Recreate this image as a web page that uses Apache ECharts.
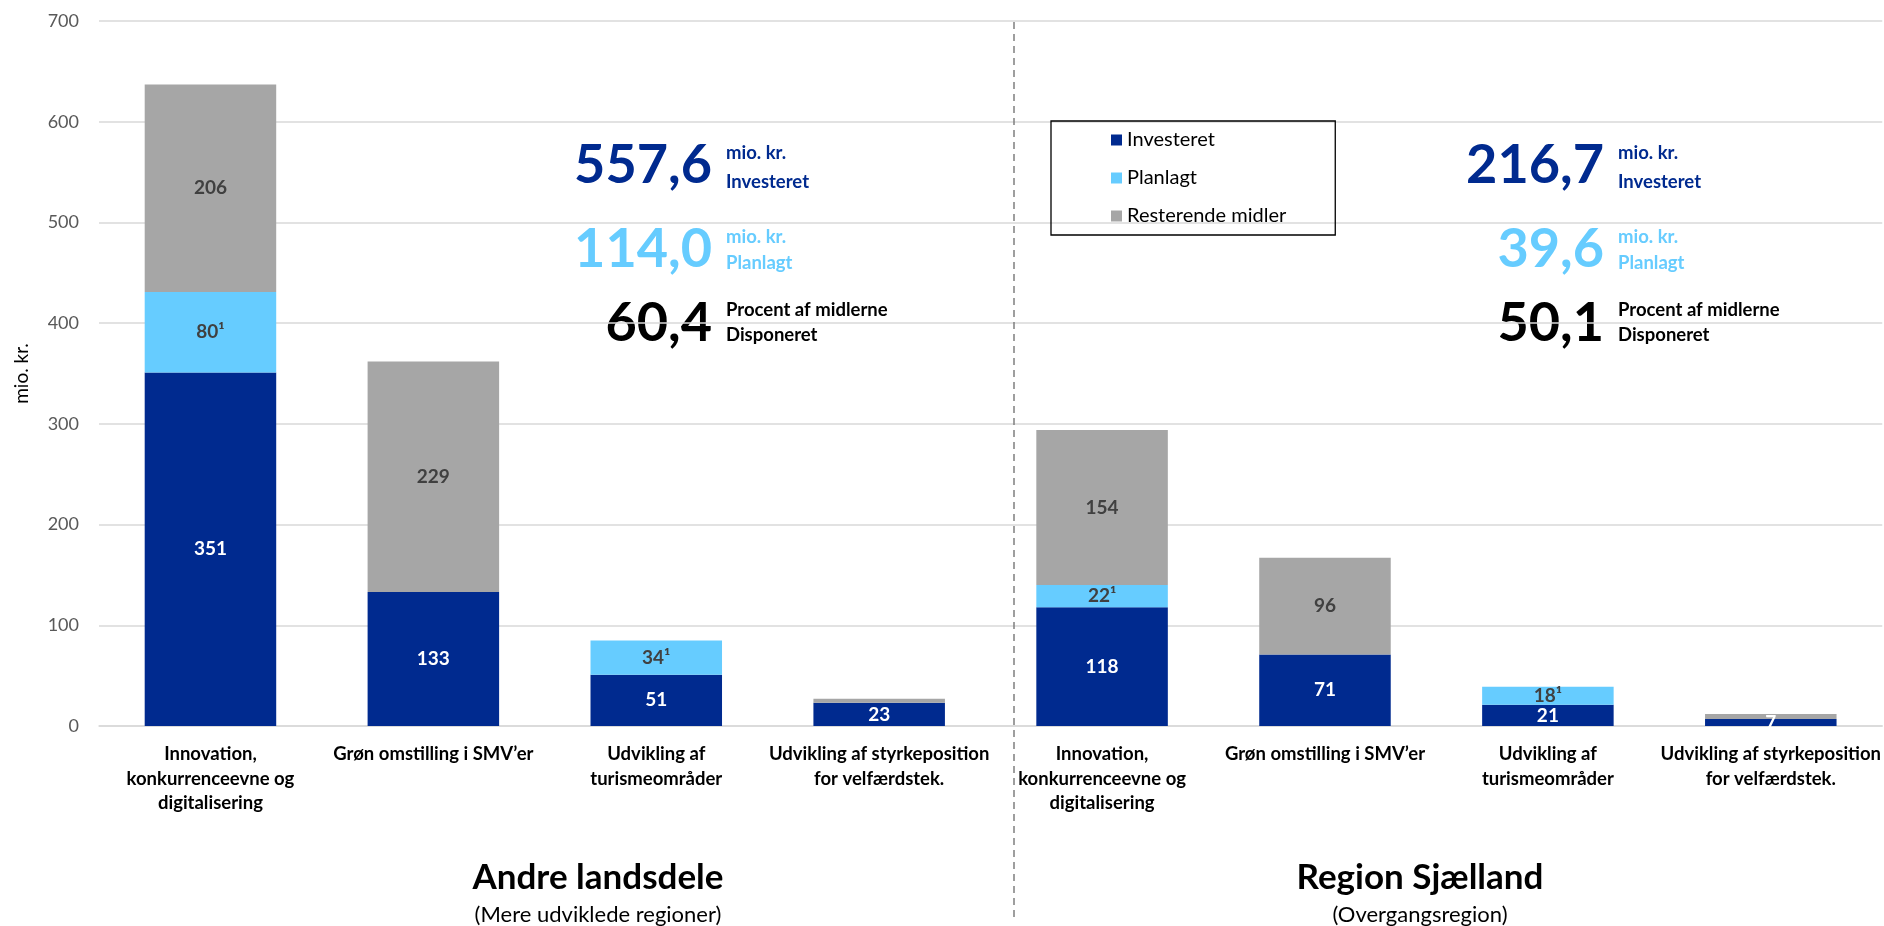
<!DOCTYPE html>
<html>
<head>
<meta charset="utf-8">
<script src="https://cdn.jsdelivr.net/npm/echarts@6/dist/echarts.min.js"></script>
<style>
html,body{margin:0;padding:0;background:#fff;}
#chart{width:1884px;height:926px;}
</style>
</head>
<body>
<div id="chart"></div>
<script>
const categories = [
  'Innovation,\nkonkurrenceevne og\ndigitalisering',
  'Grøn omstilling i SMV’er',
  'Udvikling af\nturismeområder',
  'Udvikling af styrkeposition\nfor velfærdstek.',
  'Innovation,\nkonkurrenceevne og\ndigitalisering',
  'Grøn omstilling i SMV’er',
  'Udvikling af\nturismeområder',
  'Udvikling af styrkeposition\nfor velfærdstek.'
];
const investeret = [351, 133, 51, 23, 118, 71, 21, 7];
const planlagt = [80, 0, 34, 0, 22, 0, 18, 0];
const resterende = [206, 229, 0, 4, 154, 96, 0, 5];
const yTicks = { min: 0, max: 700, interval: 100 };

const groupTitles = ['Andre landsdele', 'Region Sjælland'];
const groupSubtitles = ['(Mere udviklede regioner)', '(Overgangsregion)'];
const investeretTotal = ['557,6', '216,7'];
const planlagtTotal = ['114,0', '39,6'];
const disponeretPct = ['60,4', '50,1'];

const DARK = '#002A8F', LIGHT = '#66CCFF', GREY = '#A6A6A6';
const FONT = 'Lato';

const chart = echarts.init(document.getElementById('chart'), null, {renderer: 'canvas'});

function summaryGraphics(i, numX, groupX) {
  const lblX = numX + 14;
  const small = 'bold 18.5px ' + FONT;
  const big = 'bold 54px ' + FONT;
  const g = [];
  g.push({type:'text', x:numX, y:166, style:{text:investeretTotal[i], fill:DARK, font:big, align:'right', verticalAlign:'middle'}});
  g.push({type:'text', x:lblX, y:153, style:{text:'mio. kr.', fill:DARK, font:small, align:'left', verticalAlign:'middle'}});
  g.push({type:'text', x:lblX, y:182, style:{text:'Investeret', fill:DARK, font:small, align:'left', verticalAlign:'middle'}});
  g.push({type:'text', x:numX, y:250, style:{text:planlagtTotal[i], fill:LIGHT, font:big, align:'right', verticalAlign:'middle'}});
  g.push({type:'text', x:lblX, y:237, style:{text:'mio. kr.', fill:LIGHT, font:small, align:'left', verticalAlign:'middle'}});
  g.push({type:'text', x:lblX, y:263, style:{text:'Planlagt', fill:LIGHT, font:small, align:'left', verticalAlign:'middle'}});
  g.push({type:'text', x:numX, y:324, style:{text:disponeretPct[i], fill:'#000', font:big, align:'right', verticalAlign:'middle'}});
  g.push({type:'text', x:lblX, y:310, style:{text:'Procent af midlerne', fill:'#000', font:small, align:'left', verticalAlign:'middle'}});
  g.push({type:'text', x:lblX, y:335, style:{text:'Disponeret', fill:'#000', font:small, align:'left', verticalAlign:'middle'}});
  g.push({type:'text', x:groupX, y:878, style:{text:groupTitles[i], fill:'#000', font:'bold 35px ' + FONT, align:'center', verticalAlign:'middle'}});
  g.push({type:'text', x:groupX, y:915, style:{text:groupSubtitles[i], fill:'#000', font:'22px ' + FONT, align:'center', verticalAlign:'middle'}});
  return g;
}

const labelBase = {show:true, position:'inside', fontFamily:FONT, fontWeight:'bold', fontSize:19};

const option = {
  animation:false,
  backgroundColor:'#fff',
  grid:{left:99, right:1, top:21, bottom:200, containLabel:false},
  legend:{
    orient:'vertical', left:1051, top:121,
    data:['Investeret','Planlagt','Resterende midler'],
    icon:'rect', itemWidth:11, itemHeight:11, itemGap:18,
    padding:[9, 49, 9, 60],
    borderColor:'#000', borderWidth:1.3,
    textStyle:{fontFamily:FONT, fontSize:20, color:'#000'}
  },
  xAxis:{
    type:'category', data:categories,
    axisLine:{show:true, lineStyle:{color:'#D9D9D9', width:1.5}},
    axisTick:{show:false},
    axisLabel:{interval:0, margin:16, color:'#000', fontFamily:FONT, fontWeight:'bold', fontSize:18.5, lineHeight:24.5}
  },
  yAxis:{
    type:'value', min:yTicks.min, max:yTicks.max, interval:yTicks.interval,
    name:'mio. kr.', nameLocation:'middle', nameGap:68, nameRotate:90,
    nameTextStyle:{fontFamily:FONT, fontSize:19, color:'#000'},
    axisLine:{show:false}, axisTick:{show:false},
    axisLabel:{margin:20, color:'#595959', fontFamily:FONT, fontSize:18},
    splitLine:{lineStyle:{color:'#D9D9D9', width:1.5}}
  },
  series:[
    {name:'Investeret', type:'bar', stack:'a', data:investeret, barWidth:'59%',
     itemStyle:{color:DARK},
     label:Object.assign({}, labelBase, {color:'#fff'})},
    {name:'Planlagt', type:'bar', stack:'a', data:planlagt,
     itemStyle:{color:LIGHT},
     label:Object.assign({}, labelBase, {color:'#404040', formatter:p => p.value > 0 ? p.value + '¹' : ''})},
    {name:'Resterende midler', type:'bar', stack:'a', data:resterende,
     itemStyle:{color:GREY},
     label:Object.assign({}, labelBase, {color:'#404040', formatter:p => p.value >= 10 ? String(p.value) : ''})}
  ],
  graphic:[
    {type:'line', shape:{x1:1014, y1:22, x2:1014, y2:922}, style:{stroke:'#7F7F7F', lineWidth:1.5, lineDash:[7,5]}, z:10}
  ].concat(summaryGraphics(0, 712, 598)).concat(summaryGraphics(1, 1604, 1420))
};
chart.setOption(option);
</script>
</body>
</html>
